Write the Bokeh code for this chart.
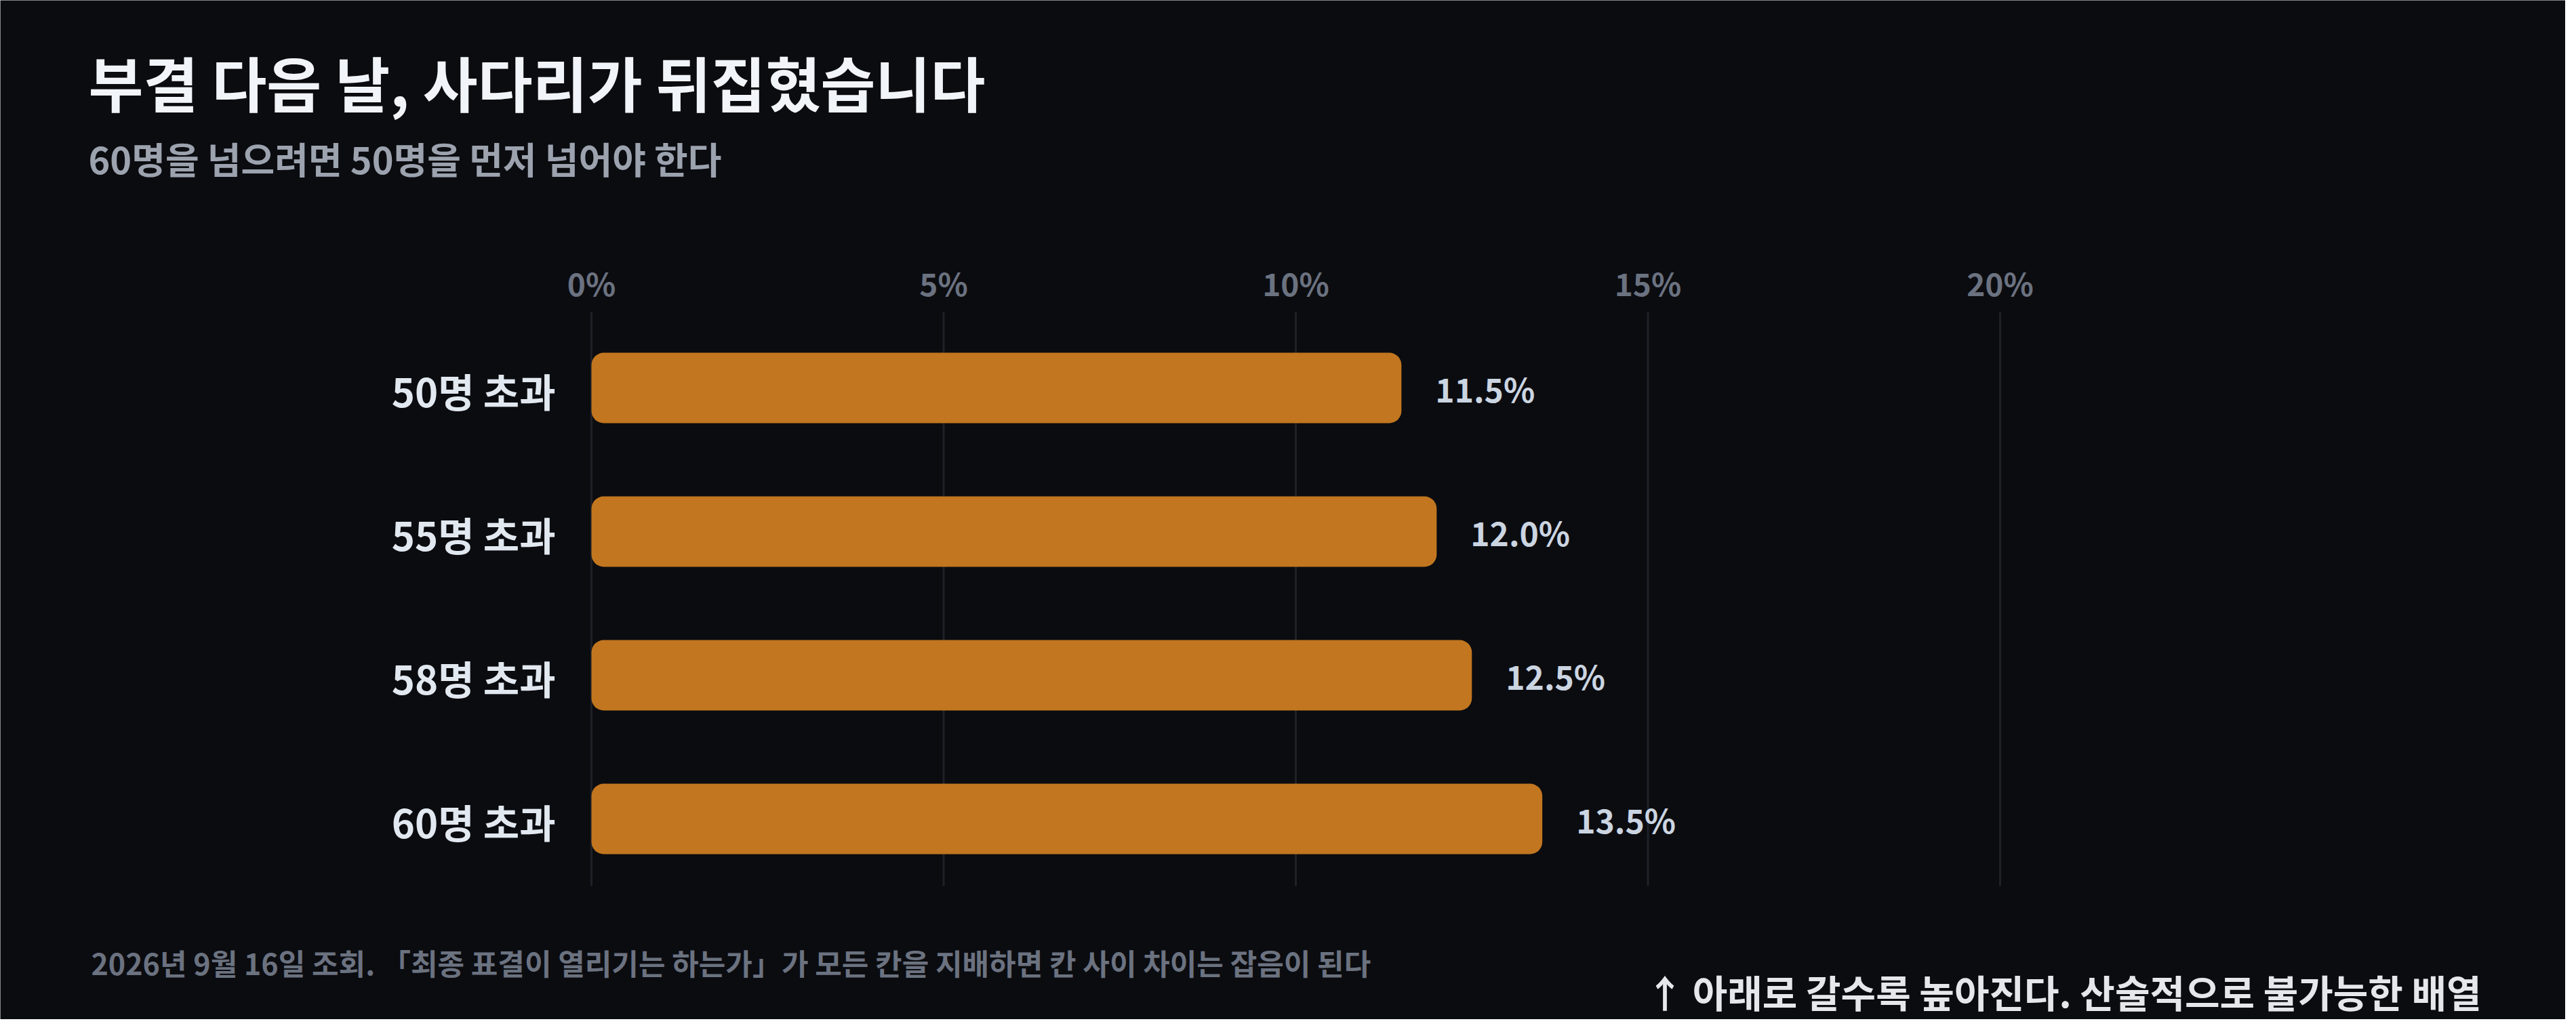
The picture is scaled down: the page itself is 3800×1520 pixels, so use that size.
from bokeh.plotting import figure
from bokeh.models import Range1d, ColumnDataSource
from bokeh.core.properties import value
from bokeh.embed import file_html
from bokeh.resources import INLINE

# data
categories = ["50명 초과", "55명 초과", "58명 초과", "60명 초과"]
shares = [11.5, 12.0, 12.5, 13.5]
share_labels = ["11.5%", "12.0%", "12.5%", "13.5%"]
x_ticks = [0, 5, 10, 15, 20]
tick_labels = ["0%", "5%", "10%", "15%", "20%"]

title_text = "부결 다음 날, 사다리가 뒤집혔습니다"
subtitle_text = "60명을 넘으려면 50명을 먼저 넘어야 한다"
note_text = "2026년 9월 16일 조회. 「최종 표결이 열리기는 하는가」가 모든 칸을 지배하면 칸 사이 차이는 잡음이 된다"
arrow_text = "↑ 아래로 갈수록 높아진다. 산술적으로 불가능한 배열"

FONT = "Noto Sans CJK KR"
BG = "#0b0c10"
BAR = "#c1761f"
GRID = "#1e2127"

W, H = 3784, 1504
# layout: 0% sits at canvas x=872, 20% at x=2950; first row centre at y=572, rows 212px apart
X0_PX, PX_PER_PCT = 872, (2950 - 872) / 20
Y0_PX, ROW_PX = 572, 212


def dx(px):
    return (px - X0_PX) / PX_PER_PCT


def dy(py):
    return (py - Y0_PX) / ROW_PX


ypos = list(range(len(categories)))
src = ColumnDataSource(dict(y=ypos, share=shares, label=share_labels, cat=categories))

# the frame fills the whole canvas so that every text can be placed freely
p = figure(width=W, height=H, output_backend="svg", toolbar_location=None,
           x_range=Range1d(dx(0), dx(W)), y_range=Range1d(dy(H), dy(0)),
           min_border=0)
p.axis.visible = False
p.grid.grid_line_color = None
p.background_fill_color = BG
p.border_fill_color = BG
p.outline_line_color = None

# vertical grid lines
p.segment(x0=x_ticks, x1=x_ticks, y0=dy(460), y1=dy(1307),
          line_color=GRID, line_width=3)

p.hbar(y="y", left=0, right="share", height=0.49, source=src,
       fill_color=BAR, line_color=None, border_radius=18)

# tick labels on top
p.text(x=x_ticks, y=[dy(416)] * len(x_ticks), text=tick_labels,
       text_font=value(FONT), text_font_size="46px", text_font_style="bold",
       text_color="#6b7280", text_baseline="middle", text_align="center")

# category labels
p.text(x=dx(819), y="y", text="cat", source=src, y_offset=3,
       text_font=value(FONT), text_font_size="58px", text_font_style="bold",
       text_color="#e2e8f0", text_baseline="middle", text_align="right")

# value labels
p.text(x="share", y="y", text="label", source=src, x_offset=50,
       text_font=value(FONT), text_font_size="48px", text_font_style="bold",
       text_color="#cbd5e1", text_baseline="middle", text_align="left")

texts = [
    (130, 119, title_text, "88px", "#f1f5f9", "left"),
    (130, 233, subtitle_text, "54px", "#9ca3af", "left"),
    (134, 1419, note_text, "43px", "#6b7280", "left"),
    (3660, 1462, arrow_text, "56px", "#e5e7eb", "right"),
]
for px, py, t, size, col, align in texts:
    p.text(x=[dx(px)], y=[dy(py)], text=[t], text_font=value(FONT),
           text_font_size=size, text_font_style="bold", text_color=col,
           text_baseline="middle", text_align=align)

open("out.html", "w").write(file_html(p, INLINE))
